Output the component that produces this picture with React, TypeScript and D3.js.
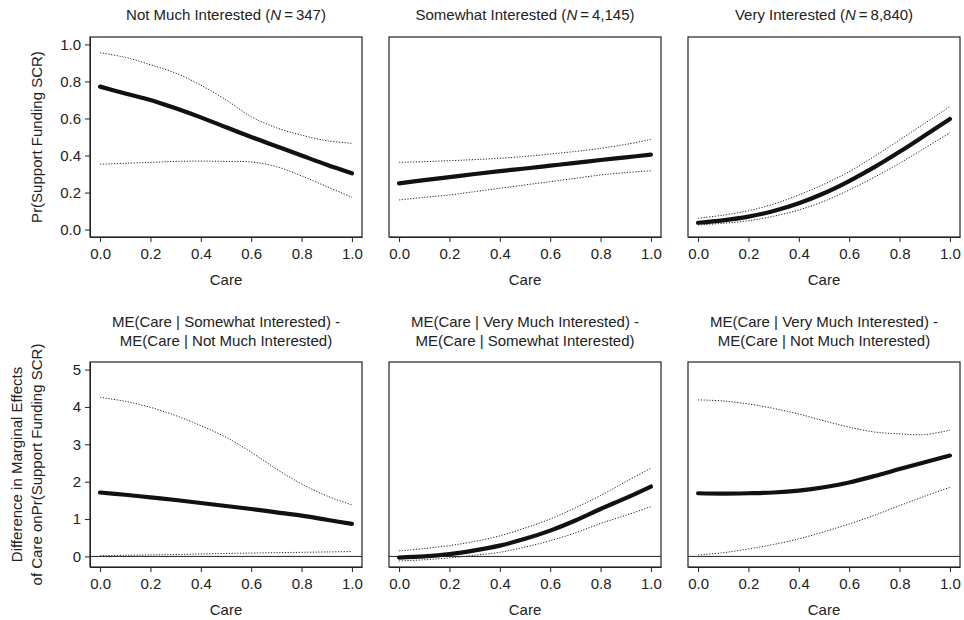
import * as d3 from "d3";
import React, { useEffect, useRef } from "react";

// values at care = 0, 0.1, ..., 1.0
const care = [0, 0.1, 0.2, 0.3, 0.4, 0.5, 0.6, 0.7, 0.8, 0.9, 1.0];

const topTitles = ["Not Much Interested", "Somewhat Interested", "Very Interested"];
const topN = ["347", "4,145", "8,840"];

const notMuchMean = [0.772, 0.735, 0.7, 0.655, 0.606, 0.553, 0.5, 0.45, 0.4, 0.35, 0.304];
const notMuchHi = [0.955, 0.93, 0.89, 0.845, 0.78, 0.7, 0.61, 0.55, 0.51, 0.48, 0.466];
const notMuchLo = [0.353, 0.358, 0.363, 0.368, 0.37, 0.368, 0.365, 0.34, 0.29, 0.232, 0.175];

const somewhatMean = [0.25, 0.267, 0.283, 0.3, 0.316, 0.33, 0.345, 0.36, 0.376, 0.39, 0.405];
const somewhatHi = [0.363, 0.367, 0.372, 0.378, 0.385, 0.395, 0.408, 0.422, 0.439, 0.46, 0.487];
const somewhatLo = [0.16, 0.174, 0.187, 0.205, 0.223, 0.241, 0.259, 0.277, 0.295, 0.308, 0.318];

const veryMean = [0.037, 0.05, 0.07, 0.1, 0.142, 0.196, 0.262, 0.337, 0.42, 0.508, 0.597];
const veryHi = [0.061, 0.078, 0.102, 0.138, 0.187, 0.245, 0.313, 0.395, 0.484, 0.574, 0.664];
const veryLo = [0.025, 0.034, 0.048, 0.072, 0.106, 0.153, 0.214, 0.283, 0.358, 0.44, 0.523];

const bottomTitles = [
  ["ME(Care | Somewhat Interested) -", "ME(Care | Not Much Interested)"],
  ["ME(Care | Very Much Interested) -", "ME(Care | Somewhat Interested)"],
  ["ME(Care | Very Much Interested) -", "ME(Care | Not Much Interested)"],
];

const someVsNotMean = [1.71, 1.65, 1.58, 1.51, 1.43, 1.35, 1.27, 1.18, 1.09, 0.98, 0.87];
const someVsNotHi = [4.26, 4.15, 3.99, 3.77, 3.5, 3.19, 2.79, 2.34, 1.94, 1.62, 1.38];
const someVsNotLo = [0.02, 0.03, 0.04, 0.05, 0.065, 0.08, 0.09, 0.1, 0.11, 0.12, 0.13];

const veryVsSomeMean = [-0.03, 0.0, 0.06, 0.16, 0.29, 0.47, 0.69, 0.96, 1.27, 1.56, 1.87];
const veryVsSomeHi = [0.15, 0.21, 0.29, 0.4, 0.55, 0.76, 1.0, 1.3, 1.63, 2.0, 2.36];
const veryVsSomeLo = [-0.12, -0.09, -0.04, 0.03, 0.11, 0.25, 0.42, 0.63, 0.88, 1.1, 1.33];

const veryVsNotMean = [1.69, 1.68, 1.69, 1.71, 1.76, 1.85, 1.98, 2.15, 2.34, 2.52, 2.7];
const veryVsNotHi = [4.19, 4.16, 4.08, 3.96, 3.81, 3.63, 3.46, 3.33, 3.28, 3.26, 3.38];
const veryVsNotLo = [0.04, 0.1, 0.2, 0.32, 0.47, 0.66, 0.87, 1.1, 1.36, 1.61, 1.85];

const xTicks = [0, 0.2, 0.4, 0.6, 0.8, 1.0];
const topYTicks = [0, 0.2, 0.4, 0.6, 0.8, 1.0];
const bottomYTicks = [0, 1, 2, 3, 4, 5];

const FONT = "'Liberation Sans', Arial, Helvetica, sans-serif";
const INK = "#222";

// R-style 4% expansion
const expand = (lo: number, hi: number) => {
  const p = (hi - lo) * 0.04;
  return [lo - p, hi + p];
};

type PanelProps = {
  left: number;
  top: number;
  width: number;
  height: number;
  ylim: [number, number];
  yTicks: number[];
  yFormat: (d: number) => string;
  showY: boolean;
  mean: number[];
  hi: number[];
  lo: number[];
  zeroLine: boolean;
};

const Panel = (p: PanelProps) => {
  const xRef = useRef<SVGGElement>(null);
  const yRef = useRef<SVGGElement>(null);

  const x = d3.scaleLinear().domain(expand(0, 1)).range([p.left, p.left + p.width]);
  const y = d3.scaleLinear().domain(expand(p.ylim[0], p.ylim[1])).range([p.top + p.height, p.top]);

  useEffect(() => {
    const xAxis = d3.axisBottom(x).tickValues(xTicks).tickFormat(d3.format(".1f")).tickSize(5).tickSizeOuter(0).tickPadding(6);
    const gx = d3.select(xRef.current).attr("transform", `translate(0,${p.top + p.height})`).call(xAxis);
    gx.select(".domain").attr("stroke", INK);
    gx.selectAll("line").attr("stroke", INK);
    gx.selectAll("text").attr("font-size", 15).attr("font-family", FONT).attr("fill", INK);

    if (p.showY) {
      const yAxis = d3.axisLeft(y).tickValues(p.yTicks).tickFormat(p.yFormat as any).tickSize(5).tickSizeOuter(0).tickPadding(4);
      const gy = d3.select(yRef.current).attr("transform", `translate(${p.left},0)`).call(yAxis);
      gy.select(".domain").attr("stroke", INK);
      gy.selectAll("line").attr("stroke", INK);
      gy.selectAll("text").attr("font-size", 15).attr("font-family", FONT).attr("fill", INK);
    }
  });

  const path = d3
    .line<number>()
    .x((_, i) => x(care[i]))
    .y((v) => y(v))
    .curve(d3.curveCatmullRom);

  return (
    <g>
      {p.zeroLine && (
        <line x1={p.left} x2={p.left + p.width} y1={y(0)} y2={y(0)} stroke={INK} strokeWidth={1} />
      )}
      <path d={path(p.hi) || ""} fill="none" stroke={INK} strokeWidth={1} strokeDasharray="1.2,1.6" />
      <path d={path(p.lo) || ""} fill="none" stroke={INK} strokeWidth={1} strokeDasharray="1.2,1.6" />
      <path d={path(p.mean) || ""} fill="none" stroke="#111" strokeWidth={4.2} strokeLinecap="round" />
      <rect x={p.left} y={p.top} width={p.width} height={p.height} fill="none" stroke={INK} strokeWidth={1.2} />
      <g ref={xRef} />
      <g ref={yRef} />
      <text
        x={(x(0) + x(1)) / 2}
        y={p.top + p.height + 48}
        textAnchor="middle"
        fontSize={15}
        fontFamily={FONT}
        fill={INK}
      >
        Care
      </text>
    </g>
  );
};

const topData = [
  [notMuchMean, notMuchHi, notMuchLo],
  [somewhatMean, somewhatHi, somewhatLo],
  [veryMean, veryHi, veryLo],
];
const bottomData = [
  [someVsNotMean, someVsNotHi, someVsNotLo],
  [veryVsSomeMean, veryVsSomeHi, veryVsSomeLo],
  [veryVsNotMean, veryVsNotHi, veryVsNotLo],
];

export default function App() {
  const lefts = [90, 389, 688];
  const W = 272;
  const topTop = 37;
  const topH = 200;
  const botTop = 362;
  const botH = 205;

  return (
    <svg width={964} height={620} style={{ position: "absolute", left: 0, top: 0, background: "#fff" }}>
      {lefts.map((l, i) => (
        <g key={"t" + i}>
          <Panel
            left={l}
            top={topTop}
            width={W}
            height={topH}
            ylim={[0, 1]}
            yTicks={topYTicks}
            yFormat={d3.format(".1f")}
            showY={i === 0}
            mean={topData[i][0]}
            hi={topData[i][1]}
            lo={topData[i][2]}
            zeroLine={false}
          />
          <text x={l + W / 2} y={topTop - 17} textAnchor="middle" fontSize={15} fontFamily={FONT} fill={INK}>
            {topTitles[i]} (<tspan fontStyle="italic">N</tspan>
            {"\u2009=\u2009" + topN[i]})
          </text>
        </g>
      ))}
      {lefts.map((l, i) => (
        <g key={"b" + i}>
          <Panel
            left={l}
            top={botTop}
            width={W}
            height={botH}
            ylim={[-0.08, 5]}
            yTicks={bottomYTicks}
            yFormat={d3.format("d")}
            showY={i === 0}
            mean={bottomData[i][0]}
            hi={bottomData[i][1]}
            lo={bottomData[i][2]}
            zeroLine={true}
          />
          {bottomTitles[i].map((t, j) => (
            <text
              key={j}
              x={l + W / 2}
              y={botTop - 35 + j * 19}
              textAnchor="middle"
              fontSize={15}
              fontFamily={FONT}
              fill={INK}
            >
              {t}
            </text>
          ))}
        </g>
      ))}
      <text
        transform={`translate(42,${topTop + topH / 2}) rotate(-90)`}
        textAnchor="middle"
        fontSize={15}
        fontFamily={FONT}
        fill={INK}
      >
        Pr(Support Funding SCR)
      </text>
      <text
        transform={`translate(22,${botTop + botH / 2}) rotate(-90)`}
        textAnchor="middle"
        fontSize={15}
        fontFamily={FONT}
        fill={INK}
      >
        Difference in Marginal Effects
      </text>
      <text
        transform={`translate(42,${botTop + botH / 2}) rotate(-90)`}
        textAnchor="middle"
        fontSize={15}
        fontFamily={FONT}
        fill={INK}
      >
        of Care onPr(Support Funding SCR)
      </text>
    </svg>
  );
}
